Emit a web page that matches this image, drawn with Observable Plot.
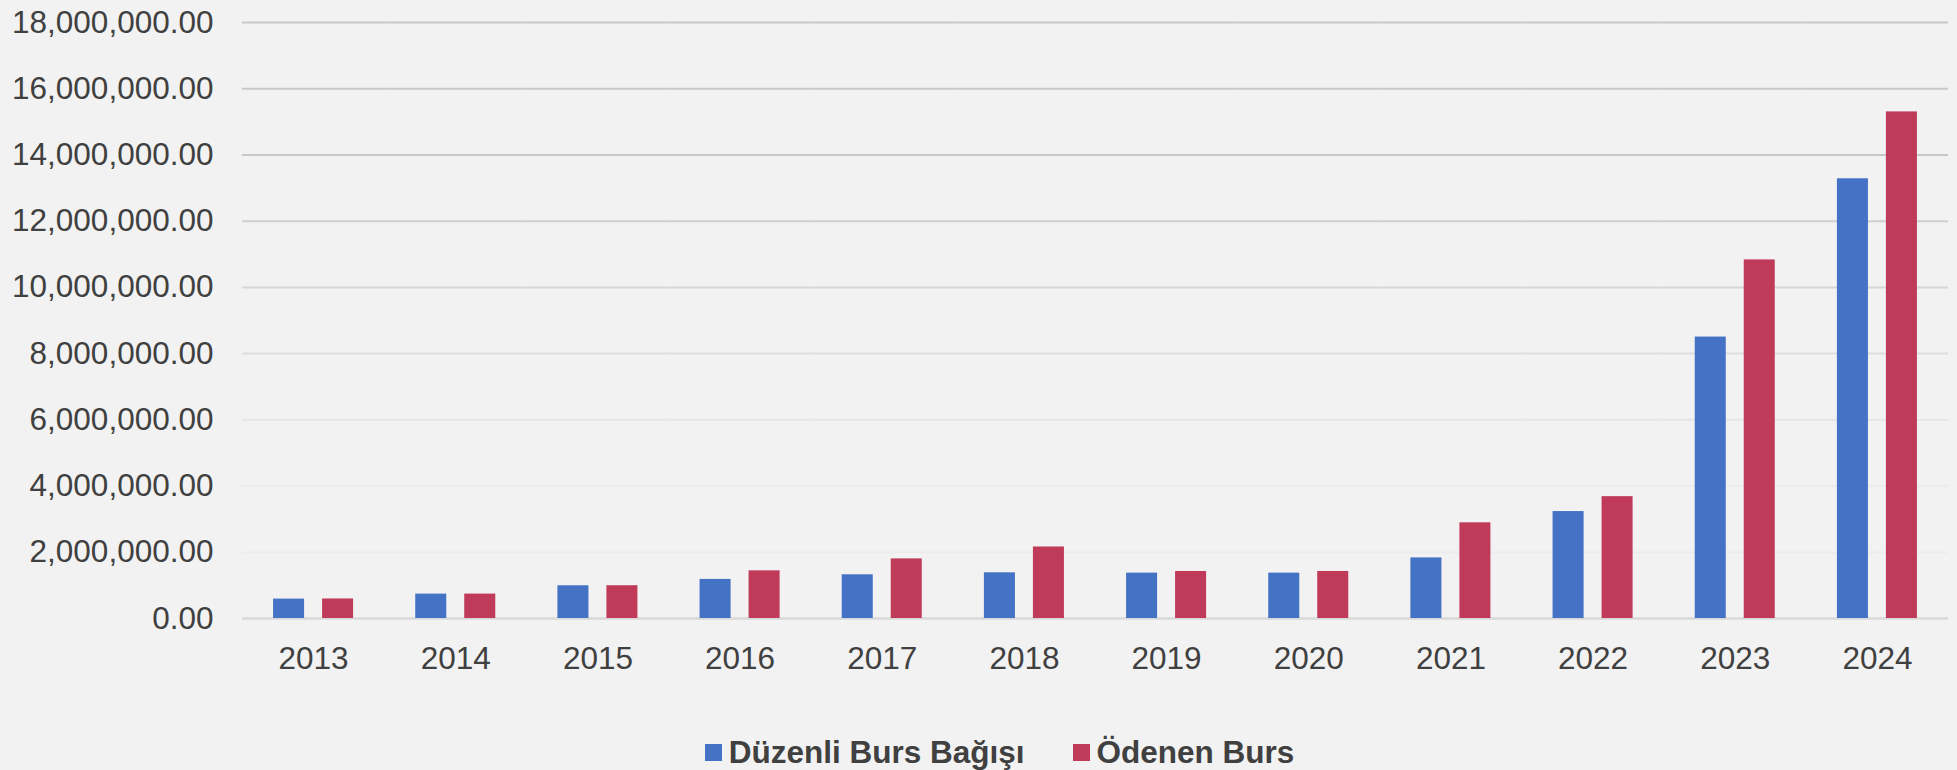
<!DOCTYPE html>
<html>
<head>
<meta charset="utf-8">
<script src="https://cdn.jsdelivr.net/npm/d3@7"></script>
<script src="https://cdn.jsdelivr.net/npm/@observablehq/plot@0.6"></script>
<style>
  html, body { margin: 0; padding: 0; background: #f2f2f2; width: 1957px; height: 770px; overflow: hidden; }
  #chart svg { display: block; }
  #legend {
    margin-top: 33px; height: 38px; line-height: 38px;
    display: flex; justify-content: center; align-items: center;
    padding-left: 42px;
    font-family: "Liberation Sans", Arial, sans-serif; font-weight: bold; font-size: 31.5px; color: #404040;
  }
  .item { display: flex; align-items: center; margin: 0 24px; }
  .sw { width: 17px; height: 17px; margin-right: 7px; }
</style>
</head>
<body>
<div id="chart"></div>
<div id="legend"></div>
<script>
const years = ["2013","2014","2015","2016","2017","2018","2019","2020","2021","2022","2023","2024"];
const seriesNames = ["Düzenli Burs Bağışı", "Ödenen Burs"];
const duzenli = [586000, 737000, 988000, 1180000, 1320000, 1380000, 1370000, 1370000, 1830000, 3230000, 8500000, 13280000];
const odenen  = [590000, 737000, 990000, 1440000, 1800000, 2160000, 1420000, 1420000, 2890000, 3680000, 10830000, 15300000];
const yTicks = [0, 2000000, 4000000, 6000000, 8000000, 10000000, 12000000, 14000000, 16000000, 18000000];

const colors = ["#4472c4", "#c03b5a"];
const data = years.flatMap((y, i) => [
  {year: y, series: seriesNames[0], value: duzenli[i]},
  {year: y, series: seriesNames[1], value: odenen[i]}
]);
const fmt = d3.format(",.2f");
const gridColor = d3.scaleLinear().domain([4000000, 14000000]).range(["#ececec", "#c8c8c8"]).clamp(true);
const font = "'Liberation Sans', Arial, sans-serif";

const chart = Plot.plot({
  width: 1957,
  height: 700,
  marginTop: 22,
  marginBottom: 82,
  marginLeft: 242,
  marginRight: 9,
  style: {background: "#f2f2f2", fontFamily: font, fontSize: "31.5px", color: "#404040"},
  fx: {domain: years, paddingInner: 0, paddingOuter: 0, round: false, label: null, tickSize: 0, tickPadding: 28, axis: "bottom"},
  x: {domain: seriesNames, paddingInner: 0.367, paddingOuter: 0.634, round: false, axis: null},
  y: {domain: [0, 18000000], ticks: yTicks, tickFormat: fmt, tickSize: 0, tickPadding: 29, label: null},
  color: {domain: seriesNames, range: colors},
  marks: [
    Plot.ruleY(yTicks.filter(d => d > 0), {y: d => d, stroke: d => gridColor(d), strokeWidth: 2}),
    Plot.ruleY([0], {stroke: "#d9d9d9", strokeWidth: 2.5}),
    Plot.barY(data, {fx: "year", x: "series", y: "value", fill: "series"})
  ]
});
document.getElementById("chart").appendChild(chart);

const legend = document.getElementById("legend");
seriesNames.forEach((name, i) => {
  const item = document.createElement("div");
  item.className = "item";
  const sw = document.createElement("span");
  sw.className = "sw";
  sw.style.background = colors[i];
  const label = document.createElement("span");
  label.textContent = name;
  item.appendChild(sw);
  item.appendChild(label);
  legend.appendChild(item);
});
</script>
</body>
</html>
